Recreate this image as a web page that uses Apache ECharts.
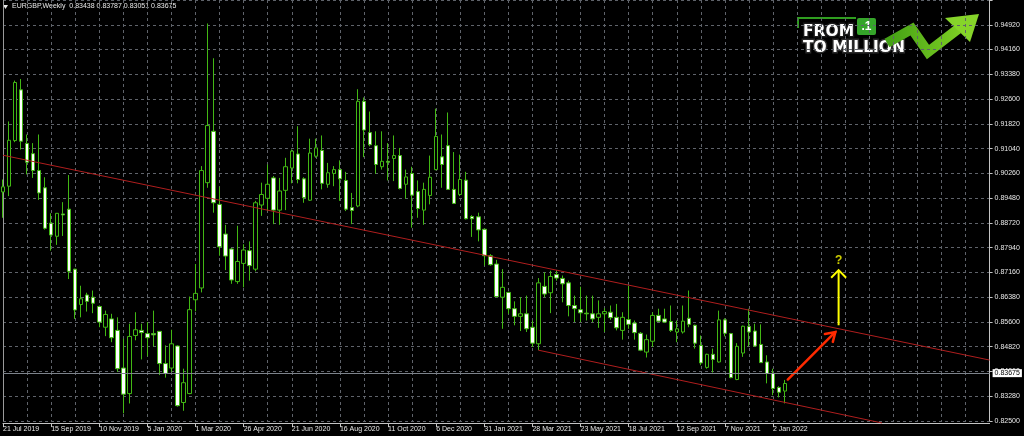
<!DOCTYPE html>
<html><head><meta charset="utf-8">
<script src="https://cdn.jsdelivr.net/npm/echarts@6/dist/echarts.min.js"></script>
<style>html,body{margin:0;padding:0;background:#000;}#c{width:1024px;height:436px;}</style>
</head><body><div id="c"></div>
<script>
// ---------------- data ----------------
const symbolName = 'EURGBP';
const timeframe = 'Weekly';
const firstBarDate = [2019, 6, 21];   // year, month index, day (21 Jul 2019)
const totalSlots = 165;               // bars + empty future area on the axis

const opens = [0.8968,0.8986,0.9129,0.9288,0.9120,0.9088,0.9035,0.8981,0.8870,0.8829,
0.8899,0.8914,0.8726,0.8615,0.8645,0.8638,0.8609,0.8544,0.8570,0.8534,
0.8416,0.8336,0.8518,0.8534,0.8524,0.8524,0.8531,0.8430,0.8416,0.8485,
0.8308,0.8336,0.8630,0.8667,0.8997,0.9158,0.8929,0.8836,0.8789,0.8687,
0.8744,0.8784,0.8726,0.8927,0.8948,0.9012,0.8911,0.8973,0.9043,0.9087,
0.9009,0.8942,0.9080,0.9098,0.8992,0.9026,0.9038,0.9004,0.8919,0.8924,
0.9252,0.9154,0.9113,0.9047,0.9064,0.9073,0.9082,0.8992,0.9026,0.8969,
0.8911,0.8957,0.9038,0.9078,0.9113,0.8976,0.8960,0.9005,0.8891,0.8890,
0.8851,0.8768,0.8742,0.8638,0.8653,0.8602,0.8578,0.8586,0.8544,0.8492,
0.8672,0.8652,0.8709,0.8697,0.8683,0.8612,0.8599,0.8588,0.8586,0.8575,
0.8586,0.8591,0.8575,0.8534,0.8568,0.8557,0.8525,0.8466,0.8500,0.8581,
0.8570,0.8562,0.8529,0.8529,0.8572,0.8550,0.8487,0.8418,0.8459,0.8435,
0.8567,0.8524,0.8380,0.8463,0.8546,0.8532,0.8490,0.8435,0.8399,0.8355,
0.83438];
const highs = [0.9007,0.9189,0.9317,0.9322,0.9148,0.9121,0.9148,0.9014,0.8901,0.8902,
0.8936,0.9021,0.8727,0.8674,0.8652,0.8659,0.8612,0.8596,0.8586,0.8575,
0.8508,0.8555,0.8591,0.8555,0.8560,0.8596,0.8532,0.8487,0.8536,0.8487,
0.8414,0.8640,0.8742,0.9049,0.9496,0.9387,0.8984,0.8865,0.8792,0.8862,
0.8804,0.8813,0.8940,0.8997,0.9054,0.9018,0.9012,0.9075,0.9101,0.9174,
0.9014,0.9135,0.9135,0.9145,0.9059,0.9049,0.9067,0.9031,0.8965,0.9290,
0.9264,0.9220,0.9158,0.9158,0.9121,0.9145,0.9106,0.9038,0.9047,0.9004,
0.8997,0.9082,0.9229,0.9148,0.9217,0.9093,0.9085,0.9031,0.8895,0.8903,
0.8853,0.8773,0.8755,0.8726,0.8655,0.8625,0.8638,0.8643,0.8565,0.8698,
0.8716,0.8721,0.8721,0.8706,0.8690,0.8643,0.8671,0.8643,0.8643,0.8628,
0.8604,0.8612,0.8617,0.8591,0.8674,0.8565,0.8529,0.8521,0.8591,0.8602,
0.8602,0.8612,0.8565,0.8612,0.8659,0.8552,0.8518,0.8461,0.8477,0.8596,
0.8572,0.8526,0.8494,0.8549,0.8602,0.8555,0.8553,0.8456,0.8414,0.8359,
0.83787];
const lows = [0.8887,0.8955,0.9124,0.9101,0.9023,0.9012,0.8943,0.8850,0.8784,0.8802,
0.8830,0.8695,0.8570,0.8575,0.8593,0.8588,0.8544,0.8516,0.8497,0.8404,
0.8274,0.8305,0.8503,0.8443,0.8453,0.8484,0.8394,0.8386,0.8404,0.8295,
0.8282,0.8334,0.8594,0.8653,0.8981,0.8903,0.8768,0.8723,0.8680,0.8680,
0.8669,0.8690,0.8719,0.8893,0.8908,0.8867,0.8865,0.8911,0.8995,0.8995,
0.8934,0.8940,0.9075,0.8976,0.8981,0.8986,0.8940,0.8908,0.8867,0.8920,
0.9077,0.9111,0.9025,0.9038,0.9004,0.9002,0.8976,0.8947,0.8856,0.8887,
0.8865,0.8929,0.9036,0.8981,0.8974,0.8930,0.8955,0.8882,0.8827,0.8813,
0.8737,0.8737,0.8638,0.8539,0.8586,0.8550,0.8532,0.8529,0.8482,0.8472,
0.8638,0.8588,0.8690,0.8622,0.8578,0.8560,0.8560,0.8565,0.8560,0.8542,
0.8529,0.8567,0.8534,0.8505,0.8539,0.8505,0.8469,0.8449,0.8482,0.8560,
0.8557,0.8529,0.8497,0.8524,0.8544,0.8477,0.8425,0.8414,0.8402,0.8433,
0.8515,0.8384,0.8378,0.8451,0.8484,0.8482,0.8432,0.8368,0.8331,0.8324,
0.83051];
const closes = [0.8984,0.9130,0.9311,0.9127,0.9061,0.9035,0.8965,0.8854,0.8833,0.8901,
0.8896,0.8719,0.8598,0.8633,0.8625,0.8619,0.8560,0.8584,0.8511,0.8414,
0.8334,0.8515,0.8536,0.8527,0.8511,0.8520,0.8430,0.8399,0.8492,0.8298,
0.8370,0.8599,0.8650,0.9035,0.9176,0.8934,0.8796,0.8767,0.8692,0.8750,
0.8786,0.8737,0.8934,0.8960,0.8992,0.8911,0.8971,0.9047,0.9096,0.9007,
0.8950,0.9090,0.9106,0.8995,0.9028,0.9038,0.9009,0.8914,0.8910,0.9252,
0.9162,0.9116,0.9054,0.9064,0.9061,0.9082,0.8979,0.9015,0.8958,0.8916,
0.8976,0.9014,0.9142,0.9054,0.8976,0.8932,0.9007,0.8884,0.8884,0.8849,
0.8768,0.8740,0.8640,0.8669,0.8602,0.8578,0.8586,0.8539,0.8494,0.8683,
0.8648,0.8703,0.8698,0.8680,0.8612,0.8602,0.8589,0.8586,0.8570,0.8586,
0.8593,0.8574,0.8542,0.8575,0.8553,0.8527,0.8472,0.8505,0.8581,0.8563,
0.8560,0.8534,0.8539,0.8563,0.8553,0.8494,0.8432,0.8459,0.8443,0.8567,
0.8525,0.8386,0.8484,0.8547,0.8529,0.8485,0.8433,0.8399,0.8352,0.8340,
0.83675];

const yTickLabels = ['0.82500','0.83280','0.84060','0.84820','0.85600','0.86380','0.87160','0.87940',
  '0.88720','0.89480','0.90260','0.91040','0.91820','0.92600','0.93380','0.94160','0.94920'];
const yTickBase = 0.825;
const yTickStep = 0.0077625;

const bidPrice = 0.83675;

// drawn objects, in [bar index, price]
const upperTrend = [[0, 0.9083], [164, 0.8441]];
const lowerTrend = [[89, 0.8472], [146.1, 0.82438]];
const redArrowShaft = [[130.45, 0.8380], [138.36, 0.8529]];
const redArrowHead = [[136.62, 0.8523], [138.36, 0.8529], [137.94, 0.8498]];
const yellowArrowShaft = [[138.9, 0.8550], [138.9, 0.8723]];
const yellowArrowHead = [[137.66, 0.8699], [138.9, 0.8723], [140.15, 0.8699]];
const questionMark = [[138.9, 0.8754]];

// ---------------- build ----------------
const MONTHS = ['Jan','Feb','Mar','Apr','May','Jun','Jul','Aug','Sep','Oct','Nov','Dec'];
const categories = [];
for (let i = 0; i < totalSlots; i++) {
  const d = new Date(Date.UTC(firstBarDate[0], firstBarDate[1], firstBarDate[2] + 7 * i));
  categories.push(d.getUTCDate() + ' ' + MONTHS[d.getUTCMonth()] + ' ' + d.getUTCFullYear());
}
const nBars = opens.length;
const candleData = opens.map((o, i) => [o, closes[i], lows[i], highs[i]]);
const last = nBars - 1;
const fmt5 = v => v.toFixed(5);
const headerText = symbolName + ',' + timeframe + '  ' +
  [opens[last], highs[last], lows[last], closes[last]].map(fmt5).join(' ');

const FONT = 'Liberation Sans';
const LOGO_FONT = 'DejaVu Sans';
const gridCol = '#5f636a';
const axisCol = '#c4c4c4';
const txtCol = '#e8e8e8';
const candleGreen = '#42b814';
const showLbl = (i) => i % 8 === 0 && i < nBars;

const chart = echarts.init(document.getElementById('c'), null, {renderer: 'canvas'});
const option = {
  backgroundColor: '#000000',
  animation: false,
  grid: {left: 0.7, right: 34.4, top: -1.875, bottom: 15, containLabel: false},
  xAxis: [{
    type: 'category', data: categories, boundaryGap: false, offset: 2,
    axisLine: {onZero: false, lineStyle: {color: axisCol, width: 1}},
    axisTick: {show: true, interval: showLbl, length: 4, lineStyle: {color: axisCol}},
    axisLabel: {interval: showLbl, color: txtCol, fontSize: 7, fontFamily: FONT, align: 'left', margin: 3,
      formatter: (v) => v},
    splitLine: {show: true, interval: 3, lineStyle: {color: gridCol, type: [3, 3], width: 1}}
  }, {
    type: 'value', min: 0, max: totalSlots - 1, show: false, splitLine: {show: false}
  }],
  yAxis: [{
    type: 'value', position: 'left', min: yTickBase, max: yTickBase + 17 * yTickStep,
    axisLine: {show: true, onZero: false, lineStyle: {color: '#9a9a9a'}},
    axisTick: {show: false}, axisLabel: {show: false}, splitLine: {show: false}
  }, {
    type: 'value', position: 'right', min: 0, max: 17, interval: 1,
    axisLine: {show: true, onZero: false, lineStyle: {color: axisCol}},
    axisTick: {show: true, length: 3, lineStyle: {color: axisCol}},
    axisLabel: {color: txtCol, fontSize: 7, fontFamily: FONT, margin: 5,
      formatter: (v) => (Math.abs(v - Math.round(v)) < 1e-6 && yTickLabels[Math.round(v)]) || ''},
    splitLine: {show: true, lineStyle: {color: gridCol, type: [3, 3], width: 1}}
  }],
  series: [{
    type: 'candlestick', name: symbolName, data: candleData, xAxisIndex: 0, yAxisIndex: 0,
    barWidth: 4, silent: true, clip: true,
    itemStyle: {color: '#000000', color0: '#ffffff', borderColor: candleGreen, borderColor0: candleGreen, borderWidth: 1},
    markLine: {
      silent: true, symbol: 'none', animation: false,
      data: [{yAxis: bidPrice}],
      lineStyle: {color: '#7d838b', type: 'solid', width: 1},
      label: {show: true, position: 'end', formatter: fmt5(bidPrice), backgroundColor: '#ffffff', color: '#000000',
        fontSize: 7, fontFamily: FONT, padding: [1, 2, 0, 2], distance: 3}
    }
  }, {
    type: 'line', data: upperTrend, xAxisIndex: 1, yAxisIndex: 0, symbol: 'none', silent: true,
    lineStyle: {color: '#b01e1e', width: 1}
  }, {
    type: 'line', data: lowerTrend, xAxisIndex: 1, yAxisIndex: 0, symbol: 'none', silent: true, clip: false,
    lineStyle: {color: '#b01e1e', width: 1}
  }, {
    type: 'line', data: redArrowShaft, xAxisIndex: 1, yAxisIndex: 0, symbol: 'none', silent: true, clip: false,
    lineStyle: {color: '#ff2a00', width: 2.5, cap: 'round'}
  }, {
    type: 'line', data: redArrowHead, xAxisIndex: 1, yAxisIndex: 0, symbol: 'none', silent: true, clip: false,
    lineStyle: {color: '#ff2a00', width: 2.5, cap: 'round', join: 'miter'}
  }, {
    type: 'line', data: yellowArrowShaft, xAxisIndex: 1, yAxisIndex: 0, symbol: 'none', silent: true, clip: false,
    lineStyle: {color: '#ffff00', width: 2}
  }, {
    type: 'line', data: yellowArrowHead, xAxisIndex: 1, yAxisIndex: 0, symbol: 'none', silent: true, clip: false,
    lineStyle: {color: '#ffff00', width: 2, join: 'miter'}
  }, {
    type: 'scatter', data: questionMark, xAxisIndex: 1, yAxisIndex: 0, symbolSize: 0, silent: true,
    label: {show: true, position: 'inside', formatter: '?', color: '#ffff00', fontSize: 12, fontWeight: 'bold', fontFamily: FONT}
  }],
  graphic: [
    {type: 'polygon', silent: true, shape: {points: [[3, 5], [8, 5], [5.5, 9]]}, style: {fill: txtCol}},
    {type: 'text', silent: true, x: 12, y: 3, style: {text: headerText, fill: txtCol, font: '7px "' + FONT + '"'}},
    // logo
    {type: 'polyline', silent: true, shape: {points: [[798, 28], [798, 18], [856, 18]]},
      style: {stroke: '#2f9e1f', lineWidth: 2, fill: null}},
    {type: 'rect', silent: true, shape: {x: 857, y: 18, width: 19, height: 17, r: 2}, style: {fill: '#35a52a'}},
    {type: 'text', silent: true, x: 866.5, y: 27, style: {text: '.1', fill: '#ffffff', font: 'bold 12px "' + FONT + '"', align: 'center', verticalAlign: 'middle'}},
    {type: 'text', silent: true, x: 803, y: 31.5, style: {text: 'FROM', fill: '#ffffff', stroke: '#1a1a1a', lineWidth: 3, strokeFirst: true, font: 'bold 15.5px "' + LOGO_FONT + '"', verticalAlign: 'middle'}},
    {type: 'text', silent: true, x: 803, y: 48, style: {text: 'TO MILLION', fill: '#ffffff', stroke: '#2a2a2a', lineWidth: 3, strokeFirst: true, font: 'bold 15.5px "' + LOGO_FONT + '"', verticalAlign: 'middle'}},
    {type: 'polyline', silent: true, shape: {points: [[887, 43], [912, 29], [928, 52], [958, 29]]},
      style: {stroke: new echarts.graphic.LinearGradient(0, 0, 1, 0, [{offset: 0, color: '#3f9c14'}, {offset: 1, color: '#7fd024'}]), lineWidth: 10, lineJoin: 'miter', fill: null}},
    {type: 'polygon', silent: true, shape: {points: [[945, 18], [979, 14], [970, 42]]}, style: {fill: '#86d42a'}}
  ]
};
chart.setOption(option);
</script>
</body></html>
